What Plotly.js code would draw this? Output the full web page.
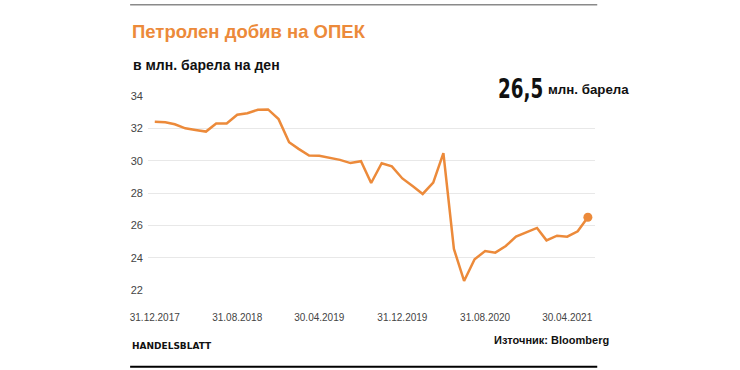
<!DOCTYPE html>
<html>
<head>
<meta charset="utf-8">
<script src="https://cdn.plot.ly/plotly-3.0.1.min.js"></script>
<style>
html,body{margin:0;padding:0;background:#fff;}
#chart{width:740px;height:370px;}
</style>
</head>
<body>
<div id="chart"></div>
<script>
// Monthly OPEC output, Dec 2017 - Jun 2021 (month-end)
var startYear = 2017, startMonth = 12; // first month
var production = [
  32.4, 32.37, 32.25, 32.0, 31.9, 31.8, 32.3, 32.3, 32.84, 32.93, 33.15, 33.17, 32.57,
  31.14, 30.73, 30.32, 30.3, 30.18, 30.05, 29.85, 29.97, 28.62, 29.84, 29.65, 28.9,
  28.41, 27.94, 28.64, 30.47, 24.54, 22.56, 23.9, 24.41, 24.31, 24.72, 25.3, 25.55,
  25.84, 25.07, 25.36, 25.3, 25.63, 26.5
];
var tickDates = ['2017-12-31','2018-08-31','2019-04-30','2019-12-31','2020-08-31','2021-04-30'];
var tickLabels = ['31.12.2017','31.08.2018','30.04.2019','31.12.2019','31.08.2020','30.04.2021'];
var yTicks = [22, 24, 26, 28, 30, 32, 34];

function monthEnd(i){
  var m = startMonth - 1 + i;
  var y = startYear + Math.floor(m / 12);
  var mm = (m % 12) + 1;
  var d = new Date(Date.UTC(y, mm, 0)).getUTCDate();
  return y + '-' + (mm < 10 ? '0' : '') + mm + '-' + d;
}
var dates = production.map(function(_, i){ return monthEnd(i); });

var orange = '#EC8A3A';
var traces = [
  {x: dates, y: production, type: 'scatter', mode: 'lines',
   line: {color: orange, width: 2.5}, hoverinfo: 'skip'},
  {x: [dates[dates.length-1]], y: [production[production.length-1]], type: 'scatter', mode: 'markers',
   marker: {color: orange, size: 9}, cliponaxis: false, hoverinfo: 'skip'}
];

var sans = 'Liberation Sans, Arial, sans-serif';
var layout = {
  width: 740, height: 370,
  margin: {l: 148, r: 145, t: 95.5, b: 80},
  paper_bgcolor: '#fff', plot_bgcolor: '#fff',
  showlegend: false,
  font: {family: sans, color: '#444', size: 11},
  xaxis: {
    type: 'date', range: ['2017-12-11', '2021-07-21'],
    tickvals: tickDates, ticktext: tickLabels,
    showgrid: false, zeroline: false, showline: false, ticks: '',
    ticklabelstandoff: 20,
    tickfont: {size: 10, color: '#444'}
  },
  yaxis: {
    range: [22, 34], tickvals: yTicks, ticktext: yTicks.map(String),
    showgrid: true, gridcolor: '#e8e8e8', gridwidth: 1,
    zeroline: false, showline: false, ticks: '',
    ticklabelstandoff: 4,
    tickfont: {size: 11, color: '#444'}
  },
  shapes: [
    {type: 'line', xref: 'paper', yref: 'paper', x0: -0.04, x1: 1.005, y0: 1.471, y1: 1.471,
     line: {color: '#8a8a8a', width: 1.5}},
    {type: 'line', xref: 'paper', yref: 'paper', x0: -0.04, x1: 1.005, y0: -0.395, y1: -0.395,
     line: {color: '#000', width: 2}}
  ],
  annotations: [
    {xref: 'paper', yref: 'paper', x: -0.04, y: 1.332, xanchor: 'left', yanchor: 'middle', showarrow: false,
     text: '<b>Петролен добив на ОПЕК</b>',
     font: {family: sans, size: 18.5, color: orange}},
    {xref: 'paper', yref: 'paper', x: -0.037, y: 1.159, xanchor: 'left', yanchor: 'middle', showarrow: false,
     text: '<b>в млн. барела на ден</b>',
     font: {family: sans, size: 14, color: '#111'}},
    {xref: 'paper', yref: 'paper', x: 0.778, y: 1.04, xanchor: 'left', yanchor: 'middle', showarrow: false,
     text: '<b>26,5</b>',
     font: {family: 'DejaVu Sans, sans-serif', size: 27, color: '#111'}},
    {xref: 'paper', yref: 'paper', x: 0.891, y: 1.036, xanchor: 'left', yanchor: 'middle', showarrow: false,
     text: '<b>млн. барела</b>',
     font: {family: sans, size: 13.3, color: '#111'}},
    {xref: 'paper', yref: 'paper', x: -0.04, y: -0.29, xanchor: 'left', yanchor: 'middle', showarrow: false,
     text: '<b>HANDELSBLATT</b>',
     font: {family: 'DejaVu Sans, sans-serif', size: 9, color: '#111'}},
    {xref: 'paper', yref: 'paper', x: 1.035, y: -0.26, xanchor: 'right', yanchor: 'middle', showarrow: false,
     text: '<b>Източник: Bloomberg</b>',
     font: {family: sans, size: 11, color: '#111'}}
  ]
};

function condense(){
  var g = document.querySelector('g.annotation[data-index="2"] text');
  if (!g || g.getAttribute('data-condensed')) return;
  var bb = g.getBBox();
  var x0 = bb.x;
  g.setAttribute('transform', 'translate(' + x0 + ',0) scale(0.68,1) translate(' + (-x0) + ',0)');
  g.setAttribute('data-condensed', '1');
}

Plotly.newPlot('chart', traces, layout, {staticPlot: true, displayModeBar: false}).then(condense);
</script>
</body>
</html>
